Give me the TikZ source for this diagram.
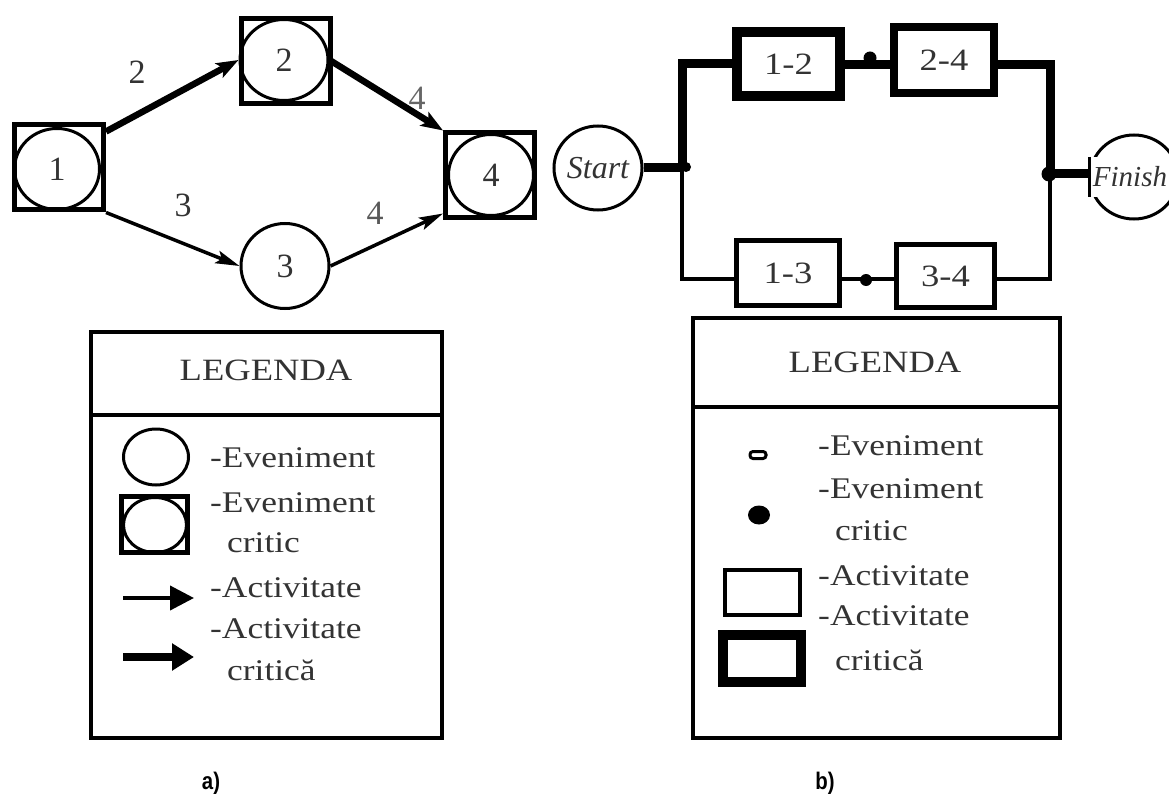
\documentclass[tikz,border=0pt]{standalone}
\usepackage{fontspec}
\setmainfont{Liberation Serif}
\newfontfamily\widefont[FakeStretch=1.18]{Liberation Serif}
\newfontfamily\tagfont[FakeStretch=0.85]{Liberation Sans}
\usetikzlibrary{arrows.meta,shapes.geometric}
\begin{document}
\begin{tikzpicture}[x=1pt,y=-1pt,
  ink/.style={text=black!80},
  num/.style={font=\fontsize{34}{36}\selectfont, ink, inner sep=0pt},
  event/.style={draw, ellipse, line width=3pt, minimum width=85pt, minimum height=81pt, inner sep=0pt},
  critsq/.style={draw, rectangle, line width=5pt, minimum width=89pt, minimum height=85pt, inner sep=0pt},
  arr/.style={line width=3.5pt, -{Stealth[length=24pt,width=13pt,inset=5pt]}},
  critarr/.style={line width=6.5pt, -{Stealth[length=22pt,width=16pt,inset=5pt]}},
  actbox/.style={draw, rectangle, line width=5pt, inner sep=0pt, ink,
    font=\widefont\fontsize{31}{33}\selectfont},
  critline/.style={line width=9pt},
  normline/.style={line width=4.5pt},
  evdot/.style={circle, fill=black, inner sep=0pt, minimum size=13pt},
  legbox/.style={draw, rectangle, line width=4pt, inner sep=0pt},
  legtxt/.style={font=\widefont\fontsize{30}{32}\selectfont, ink, inner sep=0pt, anchor=base west},
  legtitle/.style={font=\widefont\fontsize{31}{33}\selectfont, ink, inner sep=0pt, anchor=base},
  tag/.style={font=\tagfont\bfseries\fontsize{24}{26}\selectfont, inner sep=0pt, anchor=base}
]
\useasboundingbox (0,0) rectangle (1169,794);

% ---------- a) event network ----------
\node[critsq] (s1) at (59,167.5) {};
\node[event, num] (c1) at (57,169) {1};
\node[critsq] (s2) at (286,61) {};
\node[event, num, minimum width=88pt] (c2) at (284,60) {2};
\node[event, num, minimum width=88pt, minimum height=85pt] (c3) at (285,266) {3};
\node[critsq] (s4) at (490,175.5) {};
\node[event, num] (c4) at (491,175) {4};

\draw[critarr] ([yshift=-9pt]s1.north east) -- (c2.west);
\draw[arr] (s1.south east) -- (c3.west);
\draw[critarr] (c2.east) -- (s4.north west);
\draw[arr] (c3.east) -- ([yshift=7pt]s4.south west);

\node[num] (l12) at (137,72) {2};
\node[num] (l13) at (183,205) {3};
\node[num, text=black!60] (l24) at (417,98) {4};
\node[num, text=black!65] (l34) at (375,213) {4};

% ---------- b) activity network ----------
\node[event, minimum width=88pt, minimum height=84pt,
  font=\itshape\fontsize{32}{34}\selectfont, ink] (start) at (598,168) {Start};
\node[event, minimum width=88pt, minimum height=84pt] (finish) at (1134,177) {};
\node[fill=white, inner xsep=3pt, inner ysep=0pt, minimum height=40pt,
  font=\itshape\fontsize{29}{31}\selectfont, ink] (finishtxt) at (1130,177) {Finish};

\node[actbox, line width=10pt, minimum width=103pt, minimum height=64pt] (b12) at (788.5,64) {1-2};
\node[actbox, line width=8pt, minimum width=100pt, minimum height=66pt] (b24) at (944,60) {2-4};
\node[actbox, minimum width=103pt, minimum height=65pt] (b13) at (788,273) {1-3};
\node[actbox, minimum width=98pt, minimum height=63pt] (b34) at (945.5,276) {3-4};

\coordinate (j1) at (682,167);
\coordinate (j2) at (1050,174);
\coordinate (e12) at (870,65);
\coordinate (e13) at (866,279);

% critical path
\draw[critline] (start.east) -- (start.east -| j1);
\draw[critline] (j1) |- (b12.west);
\draw[critline] (b12.east |- e12) -- (e12 -| b24.west);
\draw[critline] (b24.east |- e12) -| (j2);
\draw[critline] (j2) -- (j2 -| finishtxt.west);
\draw[line width=3pt] (finishtxt.north west) -- (finishtxt.south west);
% non-critical path
\draw[normline] (j1) |- (b13.west |- e13);
\draw[normline] (b13.east |- e13) -- (e13 -| b34.west);
\draw[normline] (b34.east |- e13) -| (j2);

\node[evdot, minimum size=10pt] (d1) at (686,167) {};
\node[evdot] (d12) at (870,58) {};
\node[evdot, minimum size=12pt] (d13) at (866,280) {};
\node[evdot, minimum size=15pt] (d2) at (1049,174) {};

% ---------- legend a) ----------
\node[legbox, minimum width=351pt, minimum height=83pt] (lgahead) at (266.5,373.5) {};
\node[legbox, minimum width=351pt, minimum height=323pt] (lgabody) at (266.5,576.5) {};
\node[legtitle] (lgatitle) at (266,380) {LEGENDA};

\node[draw, ellipse, line width=3pt, minimum width=65pt, minimum height=56pt, inner sep=0pt] (kev) at (156,457) {};
\node[draw, line width=5pt, minimum width=66pt, minimum height=56pt, inner sep=0pt] (kcsq) at (154.5,524.5) {};
\node[draw, ellipse, line width=3pt, minimum width=63pt, minimum height=55pt, inner sep=0pt] (kcev) at (155,525) {};
\coordinate (ka1) at (123,598);
\coordinate (kb1) at (194,598);
\coordinate (ka2) at (123,657);
\coordinate (kb2) at (194,657);
\draw[line width=4pt, -{Triangle[length=24pt,width=24pt]}] (ka1) -- (kb1);
\draw[line width=8pt, -{Triangle[length=22pt,width=26pt]}] (ka2) -- (kb2);

\node[legtxt] (ta1) at (210,467) {-Eveniment};
\node[legtxt] (ta2) at (210,512) {-Eveniment};
\node[legtxt] (ta3) at (227,552) {critic};
\node[legtxt] (ta4) at (210,597) {-Activitate};
\node[legtxt] (ta5) at (210,638) {-Activitate};
\node[legtxt] (ta6) at (227,680) {critică};

% ---------- legend b) ----------
\node[legbox, minimum width=367pt, minimum height=89pt] (lgbhead) at (876.5,362.5) {};
\node[legbox, minimum width=367pt, minimum height=331pt] (lgbbody) at (876.5,572.5) {};
\node[legtitle] (lgbtitle) at (875,372) {LEGENDA};

\node[draw, rectangle, rounded corners=3pt, line width=3pt, minimum width=16pt, minimum height=7pt, inner sep=0pt] (kev2) at (758,455) {};
\node[ellipse, fill=black, minimum width=22pt, minimum height=19pt, inner sep=0pt] (kcev2) at (759,515) {};
\node[draw, line width=4pt, minimum width=75pt, minimum height=45pt, inner sep=0pt] (kact) at (762.5,592.5) {};
\node[draw, line width=10pt, minimum width=78pt, minimum height=47pt, inner sep=0pt] (kcact) at (762,658.5) {};

\node[legtxt] (tb1) at (818,455) {-Eveniment};
\node[legtxt] (tb2) at (818,498) {-Eveniment};
\node[legtxt] (tb3) at (835,540) {critic};
\node[legtxt] (tb4) at (818,585) {-Activitate};
\node[legtxt] (tb5) at (818,625) {-Activitate};
\node[legtxt] (tb6) at (835,670) {critică};

% ---------- captions ----------
\node[tag] (capa) at (211,789) {a)};
\node[tag] (capb) at (825,789) {b)};
\end{tikzpicture}
\end{document}
